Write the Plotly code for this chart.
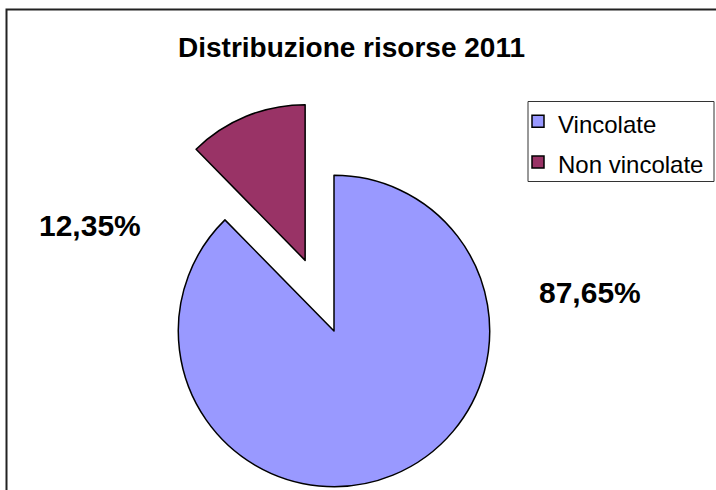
import plotly.graph_objects as go

title_text = "Distribuzione risorse 2011"
labels = ["Vincolate", "Non vincolate"]
values = [87.65, 12.35]
colors = ["#9999FF", "#993366"]
pulls = [0, 0.49]

W, H = 716, 600
FONT = "Liberation Sans, Arial, sans-serif"

def px_x(x):
    return x / W

def px_y(y):
    return 1 - y / H

legend_labels = [f"<span style='font-size:24px'>{l}</span>" for l in labels]

fig = go.Figure()
fig.add_trace(go.Pie(
    labels=legend_labels,
    values=values,
    marker=dict(colors=colors, line=dict(color="#000000", width=1.5)),
    pull=pulls,
    sort=False,
    direction="clockwise",
    rotation=0,
    textinfo="none",
    hoverinfo="percent",
    domain=dict(x=[px_x(102), px_x(566)], y=[px_y(563), px_y(99)]),
))

def fmt(v):
    return f"<b>{v:.2f}%</b>".replace(".", ",")

label_pos = [(590, 292), (90, 225)]
for v, (lx, ly) in zip(values, label_pos):
    fig.add_annotation(text=fmt(v), x=px_x(lx), y=px_y(ly), xref="paper", yref="paper",
                       showarrow=False, xanchor="center", yanchor="middle",
                       font=dict(family=FONT, size=30, color="#000000"))

fig.add_annotation(text=f"<b>{title_text}</b>", x=px_x(351), y=px_y(47), xref="paper", yref="paper",
                   showarrow=False, xanchor="center", yanchor="middle",
                   font=dict(family=FONT, size=28, color="#000000"))

# chart frame (extends past the visible window on the right and bottom)
fig.add_shape(type="rect", xref="paper", yref="paper",
              x0=px_x(6.5), x1=px_x(760), y0=px_y(640), y1=px_y(9.5),
              line=dict(color="#222222", width=2), fillcolor="rgba(0,0,0,0)", layer="below")
# legend frame
fig.add_shape(type="rect", xref="paper", yref="paper",
              x0=px_x(528), x1=px_x(714), y0=px_y(181.5), y1=px_y(101.5),
              line=dict(color="#333333", width=1), fillcolor="#FFFFFF", layer="below")

fig.update_layout(
    width=W, height=H,
    margin=dict(l=0, r=0, t=0, b=0),
    paper_bgcolor="#FFFFFF",
    plot_bgcolor="#FFFFFF",
    showlegend=True,
    legend=dict(x=px_x(518), y=px_y(96), xanchor="left", yanchor="top",
                borderwidth=0, bgcolor="rgba(0,0,0,0)",
                font=dict(family=FONT, size=29, color="#000000")),
    font=dict(family=FONT),
)

fig.write_html("out.html", config={"displayModeBar": False},
               post_script="document.body.style.margin='0px';document.body.style.overflow='hidden';")
